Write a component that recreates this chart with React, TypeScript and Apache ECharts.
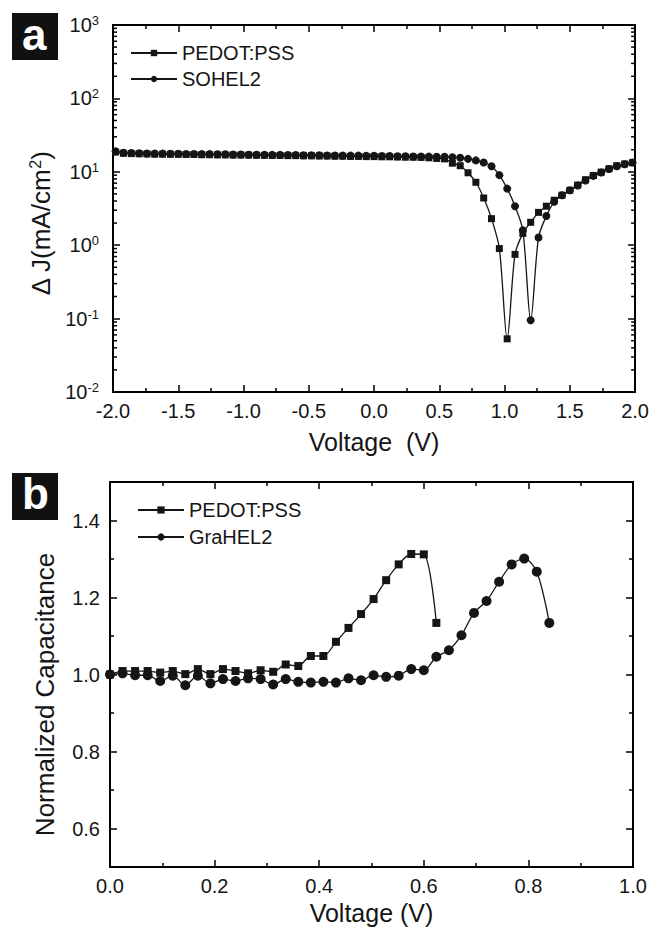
import React, { useEffect, useRef } from 'react';
import * as echarts from 'echarts';

// ---------- Panel a: ΔJ vs Voltage (log scale) ----------
const TOP_VOLTAGE = [
  -1.98, -1.92, -1.86, -1.80, -1.74, -1.68, -1.62, -1.56, -1.50, -1.44, -1.38,
  -1.32, -1.26, -1.20, -1.14, -1.08, -1.02, -0.96, -0.90, -0.84, -0.78, -0.72,
  -0.66, -0.60, -0.54, -0.48, -0.42, -0.36, -0.30, -0.24, -0.18, -0.12, -0.06,
  0.00, 0.06, 0.12, 0.18, 0.24, 0.30, 0.36, 0.42, 0.48, 0.54, 0.60, 0.66,
  0.72, 0.78, 0.84, 0.90, 0.96, 1.02, 1.08, 1.14, 1.20, 1.26, 1.32, 1.38,
  1.44, 1.50, 1.56, 1.62, 1.68, 1.74, 1.80, 1.86, 1.92, 1.98,
];
const TOP_PEDOT = [
  18.6, 17.9, 17.7, 17.6, 17.5, 17.4, 17.4, 17.3, 17.3, 17.2, 17.2,
  17.1, 17.1, 17.0, 17.0, 16.9, 16.9, 16.9, 16.8, 16.8, 16.7, 16.7,
  16.6, 16.6, 16.5, 16.5, 16.4, 16.4, 16.3, 16.3, 16.2, 16.2, 16.1,
  16.1, 16.0, 16.0, 15.9, 15.8, 15.8, 15.7, 15.5, 15.2, 15.0, 13.1, 12.1,
  9.7, 7.2, 4.4, 2.3, 0.9, 0.053, 0.75, 1.45, 2.05, 2.8, 3.4, 4.1,
  4.8, 5.6, 6.6, 7.8, 8.9, 9.9, 11.0, 12.1, 12.8, 13.3,
];
const TOP_SOHEL2 = [
  19.0, 18.2, 18.0, 17.9, 17.8, 17.7, 17.7, 17.6, 17.6, 17.5, 17.5,
  17.4, 17.4, 17.3, 17.3, 17.2, 17.2, 17.1, 17.1, 17.0, 17.0, 17.0,
  16.9, 16.9, 16.8, 16.8, 16.8, 16.7, 16.7, 16.6, 16.6, 16.6, 16.5,
  16.5, 16.4, 16.4, 16.3, 16.3, 16.2, 16.2, 16.1, 16.0, 16.0, 15.8, 15.5,
  15.0, 14.3, 13.4, 11.9, 9.0, 5.9, 3.4, 1.6, 0.095, 1.27, 2.5, 3.9,
  4.8, 5.6, 6.5, 7.6, 8.8, 9.8, 10.9, 11.9, 12.7, 13.4,
];
const LOG_MINOR_TICKS = [
  0.02, 0.03, 0.04, 0.05, 0.06, 0.07, 0.08, 0.09,
  0.2, 0.3, 0.4, 0.5, 0.6, 0.7, 0.8, 0.9,
  2, 3, 4, 5, 6, 7, 8, 9,
  20, 30, 40, 50, 60, 70, 80, 90,
  200, 300, 400, 500, 600, 700, 800, 900,
];

// ---------- Panel b: Normalized capacitance ----------
const BOT_PEDOT_V = [
  0, 0.024, 0.048, 0.072, 0.096, 0.12, 0.144, 0.168, 0.192, 0.216, 0.24,
  0.264, 0.288, 0.312, 0.336, 0.36, 0.384, 0.408, 0.432, 0.456, 0.48,
  0.504, 0.528, 0.552, 0.576, 0.6, 0.624,
];
const BOT_PEDOT_C = [
  1.000, 1.009, 1.009, 1.009, 1.005, 1.009, 1.001, 1.014, 1.001, 1.014, 1.009,
  1.003, 1.011, 1.007, 1.026, 1.022, 1.048, 1.048, 1.085, 1.121, 1.157,
  1.196, 1.245, 1.286, 1.313, 1.312, 1.134,
];
const BOT_GRAHEL_V = [
  0, 0.024, 0.048, 0.072, 0.096, 0.12, 0.144, 0.168, 0.192, 0.216, 0.24,
  0.264, 0.288, 0.312, 0.336, 0.36, 0.384, 0.408, 0.432, 0.456, 0.48,
  0.504, 0.528, 0.552, 0.576, 0.6, 0.624, 0.648, 0.672, 0.696, 0.72,
  0.744, 0.768, 0.792, 0.816, 0.84,
];
const BOT_GRAHEL_C = [
  1.000, 1.003, 0.998, 0.998, 0.983, 0.997, 0.972, 0.997, 0.977, 0.988, 0.983,
  0.990, 0.988, 0.974, 0.988, 0.981, 0.979, 0.981, 0.979, 0.990, 0.985,
  0.998, 0.994, 0.997, 1.014, 1.011, 1.046, 1.063, 1.102, 1.160, 1.191,
  1.241, 1.286, 1.301, 1.267, 1.134,
];

const FONT = "'Liberation Sans', Arial, sans-serif";
const INK = '#151515';

const axisLine = { show: true, onZero: false, lineStyle: { color: '#000', width: 2 } };
const tick = { show: true, inside: true, length: 7, lineStyle: { color: '#000', width: 1.5 } };
const minor = { show: true, splitNumber: 2, length: 4, lineStyle: { color: '#000', width: 1.5 } };
const fmt1 = (v: number) => v.toFixed(1);

export default function App() {
  const ref = useRef<HTMLDivElement>(null);

  useEffect(() => {
    const chart = echarts.init(ref.current!, null, { renderer: 'svg' });

    const option: any = {
      animation: false,
      backgroundColor: '#fff',
      textStyle: { fontFamily: FONT, color: INK },
      grid: [
        { left: 113, top: 25, width: 525, height: 367 },
        { left: 110, top: 482, width: 523, height: 385 },
      ],
      legend: [
        {
          data: ['PEDOT:PSS', 'SOHEL2'],
          orient: 'vertical',
          left: 130,
          top: 43,
          padding: 0,
          itemWidth: 46,
          itemHeight: 8,
          itemGap: 6,
          selectedMode: false,
          textStyle: { fontSize: 20, color: INK, fontFamily: FONT },
        },
        {
          data: ['PEDOT:PSS', 'GraHEL2'],
          orient: 'vertical',
          left: 137,
          top: 500,
          padding: 0,
          itemWidth: 46,
          itemHeight: 9,
          itemGap: 7,
          selectedMode: false,
          textStyle: { fontSize: 20, color: INK, fontFamily: FONT },
        },
      ],
      xAxis: [
        {
          gridIndex: 0, type: 'value', min: -2, max: 2, interval: 0.5, position: 'bottom',
          axisLine, axisTick: tick, minorTick: minor, splitLine: { show: false },
          axisLabel: { fontSize: 20, color: INK, margin: 9, formatter: fmt1 },
          name: 'Voltage  (V)', nameLocation: 'middle', nameGap: 37,
          nameTextStyle: { fontSize: 25, color: INK },
        },
        {
          gridIndex: 0, type: 'value', min: -2, max: 2, interval: 0.5, position: 'top',
          axisLine, axisTick: tick, minorTick: minor, splitLine: { show: false },
          axisLabel: { show: false },
        },
        {
          gridIndex: 1, type: 'value', min: 0, max: 1, interval: 0.2, position: 'bottom',
          axisLine, axisTick: tick, minorTick: minor, splitLine: { show: false },
          axisLabel: { fontSize: 20, color: INK, margin: 9, formatter: fmt1 },
          name: 'Voltage (V)', nameLocation: 'middle', nameGap: 33,
          nameTextStyle: { fontSize: 25, color: INK },
        },
        {
          gridIndex: 1, type: 'value', min: 0, max: 1, interval: 0.2, position: 'top',
          axisLine, axisTick: tick, minorTick: minor, splitLine: { show: false },
          axisLabel: { show: false },
        },
      ],
      yAxis: [
        {
          gridIndex: 0, type: 'log', logBase: 10, min: 0.01, max: 1000, position: 'left',
          axisLine, axisTick: tick, splitLine: { show: false },
          axisLabel: {
            margin: 14,
            formatter: (v: number) => `{b|10}{s|${Math.round(Math.log10(v))}}`,
            rich: {
              b: { fontSize: 20, color: INK, fontFamily: FONT, lineHeight: 22 },
              s: { fontSize: 13, color: INK, fontFamily: FONT, lineHeight: 13, verticalAlign: 'top' },
            },
          },
          name: '{n|Δ J(mA/cm}{s|2}{n|)}', nameLocation: 'middle', nameGap: 55,
          nameTextStyle: {
            padding: [0, 30, 0, 0],
            rich: {
              n: { fontSize: 26, color: INK, fontFamily: FONT, lineHeight: 28 },
              s: { fontSize: 16, color: INK, fontFamily: FONT, lineHeight: 16, verticalAlign: 'top' },
            },
          },
        },
        {
          gridIndex: 0, type: 'log', logBase: 10, min: 0.01, max: 1000, position: 'right',
          axisLine, axisTick: tick, splitLine: { show: false }, axisLabel: { show: false },
        },
        {
          gridIndex: 1, type: 'value', min: 0.5, max: 1.5, splitNumber: 5, position: 'left',
          axisLine, axisTick: tick, minorTick: minor, splitLine: { show: false },
          axisLabel: { fontSize: 20, color: INK, margin: 10, formatter: fmt1, showMinLabel: false, showMaxLabel: false },
          name: 'Normalized Capacitance', nameLocation: 'middle', nameGap: 52,
          nameTextStyle: { fontSize: 26, color: INK, padding: [0, 40, 0, 0] },
        },
        {
          gridIndex: 1, type: 'value', min: 0.5, max: 1.5, splitNumber: 5, position: 'right',
          axisLine, axisTick: tick, minorTick: minor, splitLine: { show: false }, axisLabel: { show: false },
        },
      ],
      series: [
        {
          name: 'PEDOT:PSS', type: 'line', xAxisIndex: 0, yAxisIndex: 0,
          data: TOP_VOLTAGE.map((v, i) => [v, TOP_PEDOT[i]]),
          symbol: 'rect', symbolSize: 7, smooth: 0.3,
          lineStyle: { color: INK, width: 1.3 }, itemStyle: { color: INK },
        },
        {
          name: 'SOHEL2', type: 'line', xAxisIndex: 0, yAxisIndex: 0,
          data: TOP_VOLTAGE.map((v, i) => [v, TOP_SOHEL2[i]]),
          symbol: 'circle', symbolSize: 8, smooth: 0.3,
          lineStyle: { color: INK, width: 1.3 }, itemStyle: { color: INK },
        },
        {
          type: 'custom', xAxisIndex: 0, yAxisIndex: 0, silent: true, z: 10,
          data: LOG_MINOR_TICKS.map((v) => [-2, v]),
          renderItem: (params: any, api: any) => {
            const v = api.value(1);
            const l = api.coord([-2, v]);
            const r = api.coord([2, v]);
            const st = { stroke: '#000', lineWidth: 1.5 };
            return {
              type: 'group',
              children: [
                { type: 'line', shape: { x1: l[0], y1: l[1], x2: l[0] + 4, y2: l[1] }, style: st },
                { type: 'line', shape: { x1: r[0] - 4, y1: r[1], x2: r[0], y2: r[1] }, style: st },
              ],
            };
          },
        },
        {
          name: 'PEDOT:PSS', type: 'line', xAxisIndex: 2, yAxisIndex: 2,
          data: BOT_PEDOT_V.map((v, i) => [v, BOT_PEDOT_C[i]]),
          symbol: 'rect', symbolSize: 8, smooth: 0.3,
          lineStyle: { color: INK, width: 1.3 }, itemStyle: { color: INK },
        },
        {
          name: 'GraHEL2', type: 'line', xAxisIndex: 2, yAxisIndex: 2,
          data: BOT_GRAHEL_V.map((v, i) => [v, BOT_GRAHEL_C[i]]),
          symbol: 'circle', symbolSize: 10, smooth: 0.3,
          lineStyle: { color: INK, width: 1.3 }, itemStyle: { color: INK },
        },
      ],
      graphic: [
        { type: 'rect', left: 12, top: 13, shape: { width: 46, height: 47 }, style: { fill: '#111' } },
        {
          type: 'text', left: 22, top: 12,
          style: { text: 'a', fill: '#fff', font: `bold 44px ${FONT}` },
        },
        { type: 'rect', left: 12, top: 473, shape: { width: 46, height: 47 }, style: { fill: '#111' } },
        {
          type: 'text', left: 22, top: 471,
          style: { text: 'b', fill: '#fff', font: `bold 44px ${FONT}` },
        },
      ],
    };

    chart.setOption(option);
    return () => chart.dispose();
  }, []);

  return (
    <div
      ref={ref}
      style={{ position: 'fixed', left: 0, top: 0, width: 652, height: 932, background: '#fff' }}
    />
  );
}
